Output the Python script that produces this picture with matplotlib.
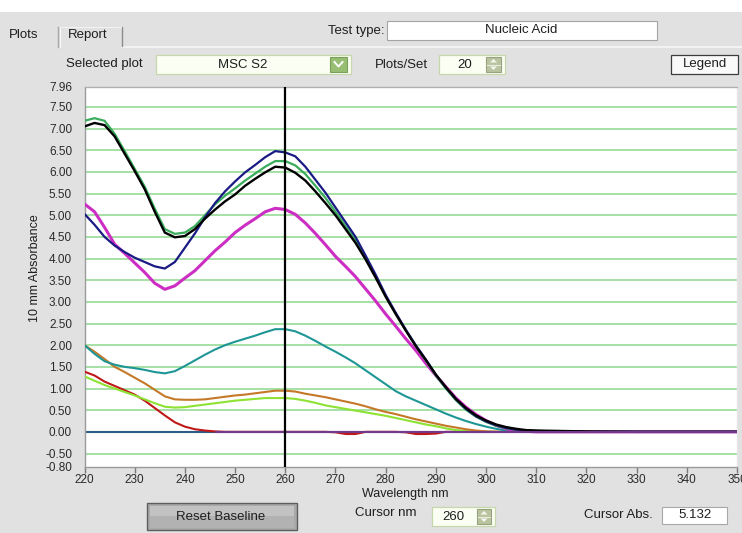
import numpy as np
import matplotlib
matplotlib.use("Agg")
import matplotlib.pyplot as plt
from matplotlib.patches import Rectangle, Polygon
from matplotlib.lines import Line2D

plt.rcParams['font.family'] = ['Liberation Sans', 'DejaVu Sans']

# ---------------------------------------------------------------- data
wavelength_nm = [220, 222, 224, 226, 228, 230, 232, 234, 236, 238,
                 240, 242, 244, 246, 248, 250, 252, 254, 256, 258,
                 260, 262, 264, 266, 268, 270, 272, 274, 276, 278,
                 280, 282, 284, 286, 288, 290, 292, 294, 296, 298,
                 300, 302, 304, 306, 308, 310, 320, 330, 340, 350]

abs_green = [7.18, 7.24, 7.18, 6.88, 6.48, 6.07, 5.66, 5.15, 4.68, 4.57,
             4.60, 4.75, 5.00, 5.25, 5.45, 5.62, 5.80, 5.96, 6.12, 6.25,
             6.25, 6.15, 5.95, 5.68, 5.40, 5.08, 4.75, 4.42, 4.02, 3.59,
             3.13, 2.73, 2.35, 1.98, 1.65, 1.30, 1.00, 0.73, 0.51, 0.35,
             0.23, 0.14, 0.08, 0.05, 0.03, 0.02, 0.00, 0.00, 0.00, 0.00]

abs_black = [7.05, 7.13, 7.08, 6.82, 6.42, 6.02, 5.60, 5.08, 4.60, 4.49,
             4.52, 4.68, 4.92, 5.13, 5.32, 5.48, 5.68, 5.84, 5.99, 6.12,
             6.10, 5.98, 5.80, 5.55, 5.28, 5.00, 4.68, 4.36, 3.98, 3.56,
             3.12, 2.72, 2.34, 1.98, 1.66, 1.32, 1.03, 0.76, 0.55, 0.38,
             0.26, 0.17, 0.11, 0.07, 0.04, 0.03, 0.01, 0.00, 0.00, 0.00]

abs_navy = [5.03, 4.78, 4.50, 4.30, 4.15, 4.02, 3.92, 3.82, 3.77, 3.92,
            4.25, 4.58, 4.95, 5.28, 5.55, 5.78, 5.99, 6.16, 6.34, 6.48,
            6.45, 6.36, 6.12, 5.82, 5.52, 5.18, 4.84, 4.50, 4.07, 3.63,
            3.16, 2.75, 2.36, 2.00, 1.67, 1.32, 1.02, 0.75, 0.53, 0.36,
            0.24, 0.15, 0.09, 0.05, 0.03, 0.02, 0.00, 0.00, 0.00, 0.00]

abs_magenta = [5.26, 5.08, 4.72, 4.33, 4.12, 3.90, 3.68, 3.43, 3.29, 3.37,
               3.55, 3.72, 3.95, 4.18, 4.38, 4.60, 4.77, 4.92, 5.08, 5.16,
               5.132, 5.02, 4.82, 4.58, 4.32, 4.05, 3.82, 3.58, 3.30, 3.02,
               2.72, 2.44, 2.15, 1.88, 1.58, 1.30, 1.04, 0.78, 0.57, 0.40,
               0.26, 0.15, 0.07, 0.03, 0.01, 0.00, 0.00, 0.00, 0.00, 0.00]

abs_teal = [2.00, 1.80, 1.63, 1.55, 1.50, 1.47, 1.43, 1.38, 1.35, 1.40,
            1.52, 1.65, 1.78, 1.90, 2.00, 2.08, 2.15, 2.22, 2.30, 2.37,
            2.37, 2.32, 2.22, 2.10, 1.97, 1.85, 1.72, 1.58, 1.42, 1.26,
            1.10, 0.94, 0.82, 0.72, 0.62, 0.52, 0.42, 0.33, 0.25, 0.18,
            0.12, 0.07, 0.03, 0.01, 0.00, 0.00, 0.00, 0.00, 0.00, 0.00]

abs_brown = [2.00, 1.85, 1.68, 1.50, 1.38, 1.25, 1.12, 0.97, 0.82, 0.75,
             0.74, 0.74, 0.75, 0.78, 0.81, 0.84, 0.86, 0.89, 0.92, 0.95,
             0.95, 0.93, 0.88, 0.84, 0.80, 0.75, 0.70, 0.65, 0.59, 0.52,
             0.46, 0.41, 0.35, 0.29, 0.24, 0.19, 0.14, 0.10, 0.06, 0.03,
             0.01, 0.00, 0.00, 0.00, 0.00, 0.00, 0.00, 0.00, 0.00, 0.00]

abs_lime = [1.28, 1.18, 1.08, 1.00, 0.92, 0.84, 0.75, 0.66, 0.58, 0.56,
            0.57, 0.60, 0.63, 0.66, 0.69, 0.72, 0.74, 0.76, 0.78, 0.78,
            0.78, 0.76, 0.72, 0.67, 0.61, 0.57, 0.53, 0.49, 0.45, 0.41,
            0.37, 0.32, 0.27, 0.22, 0.17, 0.13, 0.08, 0.04, 0.02, 0.00,
            0.00, 0.00, 0.00, 0.00, 0.00, 0.00, 0.00, 0.00, 0.00, 0.00]

abs_red = [1.39, 1.30, 1.16, 1.06, 0.96, 0.86, 0.72, 0.55, 0.38, 0.22,
           0.12, 0.06, 0.03, 0.01, 0.00, 0.00, 0.00, 0.00, 0.00, 0.00,
           0.00, 0.00, 0.00, 0.00, 0.00, -0.01, -0.05, -0.05, 0.00, 0.00,
           0.00, 0.00, -0.01, -0.05, -0.05, -0.04, 0.00, 0.00, 0.00, 0.00,
           0.00, 0.00, 0.00, 0.00, 0.00, 0.00, 0.00, 0.00, 0.00, 0.00]

abs_blank = [0.00, 0.00, 0.00, 0.00, 0.00, 0.00, 0.00, 0.00, 0.00, 0.00,
             0.00, 0.00, 0.00, 0.00, 0.00, 0.00, 0.00, 0.00, 0.00, 0.00,
             0.00, 0.00, 0.00, 0.00, 0.00, 0.00, 0.00, 0.00, 0.00, 0.00,
             0.00, 0.00, 0.00, 0.00, 0.00, 0.00, 0.00, 0.00, 0.00, 0.00,
             0.00, 0.00, 0.00, 0.00, 0.00, 0.00, 0.00, 0.00, 0.00, 0.00]

nan = float('nan')
abs_purple = [nan, nan, nan, nan, nan, nan, nan, nan, nan, nan,
              nan, nan, nan, 0.00, 0.00, 0.00, 0.00, 0.00, 0.00, 0.00,
              0.00, 0.00, 0.00, 0.00, 0.00, 0.00, 0.00, 0.00, 0.00, 0.00,
              0.00, 0.00, 0.00, 0.00, 0.00, 0.00, 0.00, 0.00, 0.00, 0.00,
              0.00, 0.00, 0.00, 0.00, 0.00, 0.00, 0.00, 0.00, 0.00, 0.00]

x_ticks = [220, 230, 240, 250, 260, 270, 280, 290, 300, 310, 320, 330, 340, 350]
y_ticks = [-0.80, -0.50, 0.00, 0.50, 1.00, 1.50, 2.00, 2.50, 3.00, 3.50,
           4.00, 4.50, 5.00, 5.50, 6.00, 6.50, 7.00, 7.50, 7.96]
grid_levels = [-0.50, 0.00, 0.50, 1.00, 1.50, 2.00, 2.50, 3.00, 3.50,
               4.00, 4.50, 5.00, 5.50, 6.00, 6.50, 7.00, 7.50]

cursor_nm = 260
cursor_abs = "5.132"

# ---------------------------------------------------------------- figure
W, H = 742, 533
fig = plt.figure(figsize=(W / 100, H / 100), dpi=100, facecolor='#e1e1e1')


def fx(px):
    return px / W


def fy(py):
    return 1 - py / H


def rect(x0, y0, x1, y1, fc, ec='none', lw=1.0, z=1):
    fig.patches.append(Rectangle((fx(x0), fy(y1)), fx(x1) - fx(x0), fy(y0) - fy(y1),
                                 transform=fig.transFigure, facecolor=fc,
                                 edgecolor=ec, lw=lw, zorder=z))


def line(xs, ys, color, lw=1.0, z=2):
    fig.lines.append(Line2D([fx(v) for v in xs], [fy(v) for v in ys],
                            transform=fig.transFigure, color=color, lw=lw, zorder=z))


def poly(pts, fc, z=3):
    fig.patches.append(Polygon([(fx(a), fy(b)) for a, b in pts], closed=True,
                               transform=fig.transFigure, facecolor=fc,
                               edgecolor='none', zorder=z))


def txt(x, y, s, ha='left', size=9, color='#1e1e1e', **kw):
    fig.text(fx(x), fy(y), s, ha=ha, va='center', fontsize=size, color=color, **kw)


def spinner(x0, y0, x1, y1):
    rect(x0, y0, x1, y1, '#b9c39f', '#98a27e', 0.8, z=3)
    xm = (x0 + x1) / 2
    ym = (y0 + y1) / 2
    line([x0 + 1, x1 - 1], [ym, ym], '#e8ecdc', 0.8, z=4)
    poly([(xm - 3.5, ym - 2), (xm + 3.5, ym - 2), (xm, ym - 5.5)], '#f4f6ee', z=4)
    poly([(xm - 3.5, ym + 2), (xm + 3.5, ym + 2), (xm, ym + 5.5)], '#f4f6ee', z=4)


# top strip and tab row
rect(0, 0, W, 12, 'white')
line([122, W], [46.5, 46.5], '#f6f6f6', 1.2)
line([58, 58], [27, 47], '#a8a8a8', 1.0)
line([59.5, 59.5], [27, 47], '#f8f8f8', 0.8)
line([122, 122], [27, 46], '#8c8c8c', 1.0)
line([60, 121], [26.5, 26.5], '#f2f2f2', 0.8)
txt(9, 35, 'Plots', size=9.5)
txt(68, 35, 'Report', size=9.5)

# test type
txt(384, 31, 'Test type:', ha='right', size=9.5)
rect(387, 21, 657, 40, 'white', '#a4a4a4', 0.8)
txt(521, 30, 'Nucleic Acid', ha='center', size=9.5)

# selection row
txt(66, 64, 'Selected plot', size=9.5)
rect(156, 55, 351, 74, '#fbfef3', '#c6d8ab', 0.9)
txt(243, 64.5, 'MSC S2', ha='center', size=9.5)
rect(330, 57, 347, 72, '#97be72', '#79a158', 0.8, z=3)
line([334.5, 338.5, 342.5], [62, 66.5, 62], 'white', 1.4, z=4)
txt(375, 65, 'Plots/Set', size=9.5)
rect(439, 55, 505, 74, '#fbfef3', '#c6d8ab', 0.9)
txt(465, 65, '20', ha='center', size=9.5)
spinner(486, 57, 501, 72)
rect(671, 55, 738, 74, '#f9f9f9', '#3c3c3c', 0.9)
txt(704.5, 64.5, 'Legend', ha='center', size=9.5)

# bottom controls
rect(147, 503, 297, 530, '#a9a9a9', '#5e5e5e', 1.0)
rect(150, 505.5, 294, 516, '#c2c2c2')
rect(150, 516, 294, 527.5, '#b2b2b2')
txt(221, 517, 'Reset Baseline', ha='center', size=9.5)
txt(355, 513, 'Cursor nm', size=9.5)
rect(432, 507, 495, 526, '#fbfef3', '#c6d8ab', 0.9)
txt(453, 517, str(cursor_nm), ha='center', size=9.5)
spinner(477, 509, 491, 524)
txt(653, 515.5, 'Cursor Abs.', ha='right', size=9.5)
rect(662, 507, 727, 524, 'white', '#a8a8a8', 0.8)
txt(695, 515.5, cursor_abs, ha='center', size=9.5)

# ---------------------------------------------------------------- plot area
ax = fig.add_axes([fx(84.5), fy(466.5), fx(737) - fx(84.5), fy(87) - fy(466.5)])
ax.set_facecolor('white')
ax.set_xlim(220, 350)
ax.set_ylim(-0.80, 7.96)

for lvl in grid_levels:
    ax.axhline(lvl, color='#8ed98e', lw=1.1, zorder=1)

series = [
    (abs_blank, '#2d5c88', 1.5, 2),
    (abs_red, '#c01818', 1.5, 3),
    (abs_lime, '#8ee234', 1.5, 4),
    (abs_brown, '#c47828', 1.5, 5),
    (abs_teal, '#1f9696', 1.5, 6),
    (abs_magenta, '#cc2ec4', 2.2, 7),
    (abs_green, '#3aac5c', 1.6, 8),
    (abs_navy, '#1a1a84', 1.6, 9),
    (abs_black, '#000000', 1.7, 10),
    (abs_purple, '#74388a', 1.5, 11),
]
for vals, col, lw, z in series:
    ax.plot(wavelength_nm, vals, color=col, lw=lw, zorder=z,
            solid_joinstyle='round', solid_capstyle='butt')

ax.axvline(cursor_nm, color='black', lw=1.6, zorder=20)

ax.set_xticks(x_ticks)
ax.set_xticklabels([str(v) for v in x_ticks])
ax.set_yticks(y_ticks)
ax.set_yticklabels([f"{v:.2f}" for v in y_ticks])
ax.tick_params(axis='y', length=0, pad=9, labelsize=8.5, labelcolor='#2a2a2a')
ax.tick_params(axis='x', length=4, width=1, direction='out', color='#7a7a7a',
               pad=1.5, labelsize=8.5, labelcolor='#2a2a2a')

ax.spines['left'].set_color('#9a9a9a')
ax.spines['bottom'].set_color('#9a9a9a')
ax.spines['top'].set_color('#b0b0b0')
ax.spines['right'].set_color('#e6e6e6')
for s in ax.spines.values():
    s.set_linewidth(1.0)

txt(405, 494, 'Wavelength nm', ha='center', size=9)
fig.text(fx(35), fy(268), '10 mm Absorbance', rotation=90, ha='center', va='center',
         fontsize=9, color='#1e1e1e')

fig.savefig('out.png', dpi=100, facecolor=fig.get_facecolor())
